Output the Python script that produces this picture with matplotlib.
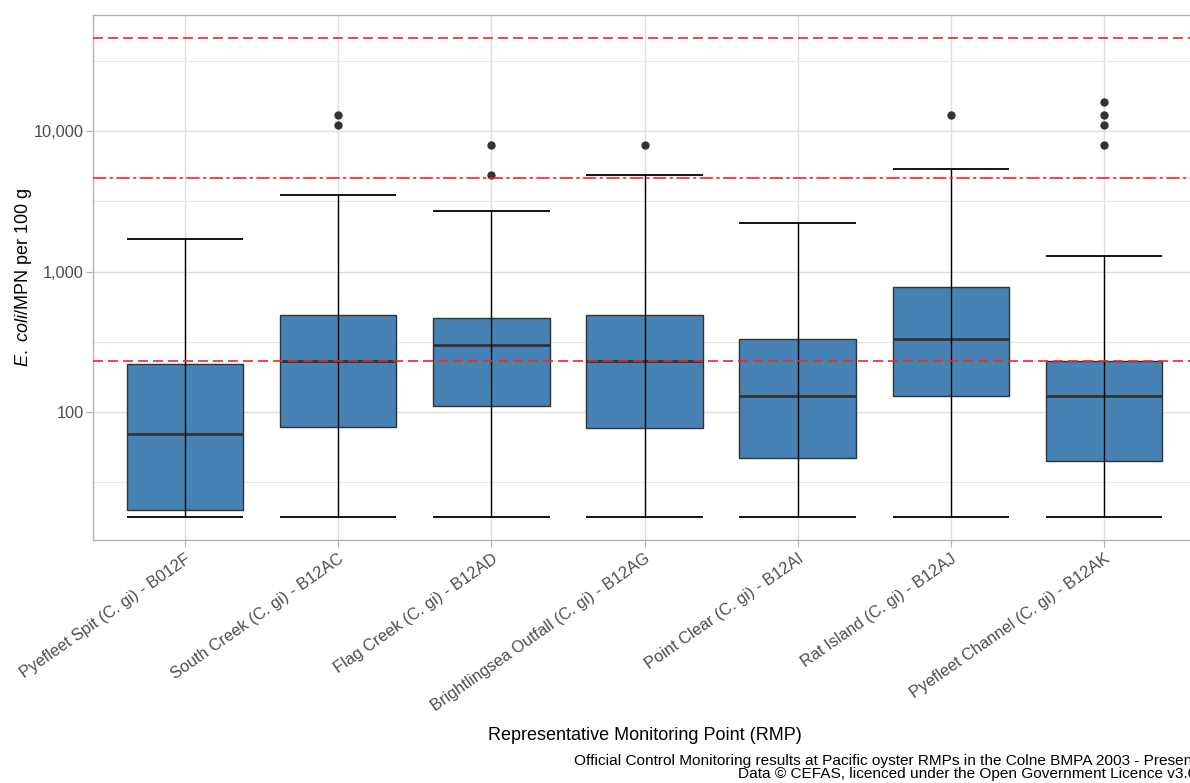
import matplotlib
matplotlib.use("Agg")
import matplotlib.pyplot as plt
import numpy as np

plt.rcParams['font.family'] = ['Liberation Sans', 'DejaVu Sans']
plt.rcParams['mathtext.fontset'] = 'custom'
plt.rcParams['mathtext.rm'] = 'Liberation Sans'
plt.rcParams['mathtext.it'] = 'Liberation Sans:italic'

# Representative monitoring points
sites = [
    "Pyefleet Spit (C. gi) - B012F",
    "South Creek (C. gi) - B12AC",
    "Flag Creek (C. gi) - B12AD",
    "Brightlingsea Outfall (C. gi) - B12AG",
    "Point Clear (C. gi) - B12AI",
    "Rat Island (C. gi) - B12AJ",
    "Pyefleet Channel (C. gi) - B12AK",
]

# Box-plot summaries (E. coli MPN per 100 g)
whisker_low = [18, 18, 18, 18, 18, 18, 18]
q1 = [20, 78, 110, 77, 47, 130, 45]
median = [70, 230, 300, 230, 130, 330, 130]
q3 = [220, 490, 470, 490, 330, 780, 230]
whisker_high = [1700, 3500, 2700, 4900, 2200, 5400, 1300]
outliers = [
    [],
    [11000, 13000],
    [4900, 7900],
    [7900],
    [],
    [13000],
    [7900, 11000, 13000, 16000],
]

# Classification thresholds
thresholds = [230, 4600, 46000]
threshold_styles = [(0, (6, 3)), (0, (8, 2, 2, 2)), (0, (6, 3))]

fig = plt.figure(figsize=(11.9, 7.83), dpi=100)
ax = fig.add_axes([93 / 1190, 1 - 540 / 783, (1196 - 93) / 1190, (540 - 15) / 783])

pos = np.arange(1, len(sites) + 1)
box_w = 0.76

stats = []
for i in range(len(sites)):
    stats.append(dict(whislo=whisker_low[i], q1=q1[i], med=median[i], q3=q3[i],
                      whishi=whisker_high[i], fliers=outliers[i]))

ax.bxp(stats, positions=pos, widths=box_w, patch_artist=True, showcaps=False,
       boxprops=dict(facecolor='#4682B4', edgecolor='#333333', linewidth=1.0),
       medianprops=dict(color='#333333', linewidth=2.0),
       whiskerprops=dict(linewidth=0),
       flierprops=dict(marker='o', markerfacecolor='#333333', markeredgecolor='#333333',
                       markersize=5),
       zorder=3)

# Error-bar style whiskers drawn over the boxes
ax.vlines(pos, whisker_low, whisker_high, color='black', linewidth=1.0, zorder=4)
ax.hlines(whisker_low, pos - box_w / 2, pos + box_w / 2, color='black', linewidth=1.3, zorder=4)
ax.hlines(whisker_high, pos - box_w / 2, pos + box_w / 2, color='black', linewidth=1.3, zorder=4)

for t, ls in zip(thresholds, threshold_styles):
    ax.axhline(t, color='#FF2020', linestyle=ls, linewidth=1.2, zorder=5)

ax.set_yscale('log')
ax.set_ylim(12.3, 67000)
ax.set_xlim(0.4, len(sites) + 0.6)

major = [100, 1000, 10000]
ax.set_yticks(major)
ax.set_yticklabels([f"{v:,}" for v in major])
minor = [10 ** 1.5, 10 ** 2.5, 10 ** 3.5, 10 ** 4.5]
ax.set_yticks(minor, minor=True)
ax.tick_params(axis='y', which='minor', length=0)
ax.yaxis.set_minor_formatter(matplotlib.ticker.NullFormatter())

ax.set_xticks(pos)
ax.set_xticklabels(sites, rotation=35, ha='right', va='top', rotation_mode='anchor')

ax.grid(True, which='major', color='#DEDEDE', linewidth=1.0, zorder=0)
ax.grid(True, which='minor', axis='y', color='#E6E6E6', linewidth=0.8, zorder=0)
ax.set_axisbelow(True)

for s in ax.spines.values():
    s.set_color('#B3B3B3')
    s.set_linewidth(1.0)

ax.tick_params(axis='both', which='major', length=5, color='#B3B3B3', labelcolor='#4D4D4D',
               labelsize=11.8)
ax.tick_params(axis='y', pad=1.5)
ax.tick_params(axis='x', pad=3)

ax.set_ylabel(r'$\mathit{E.\ coli}$/MPN per 100 g', fontsize=13, color='black')
ax.yaxis.set_label_coords(-(93 - 34) / (1196 - 93), 0.5)
ax.set_xlabel('Representative Monitoring Point (RMP)', fontsize=13, color='black', labelpad=9)

fig.text(1196 / 1190, 1 - 754 / 783,
         "Official Control Monitoring results at Pacific oyster RMPs in the Colne BMPA 2003 - Present\n"
         "Data \u00a9 CEFAS, licenced under the Open Government Licence v3.0",
         ha='right', va='top', fontsize=11.1, color='black', linespacing=0.92)

fig.savefig('out.png', dpi=100)
